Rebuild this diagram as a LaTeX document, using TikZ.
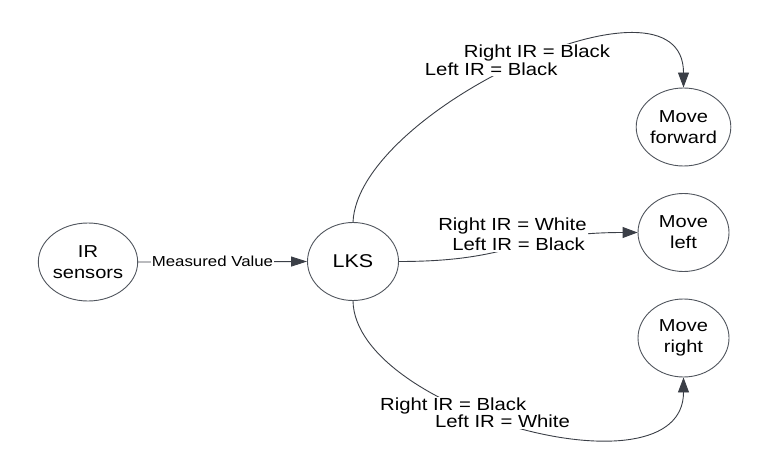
\documentclass[tikz,border=0pt]{standalone}
\usepackage{fontspec}
\setmainfont{Liberation Sans}[FakeStretch=1.16]
\usetikzlibrary{shapes.geometric,arrows.meta}
\definecolor{edgecol}{HTML}{3B3F47}
\definecolor{bordercol}{HTML}{50555D}
\begin{document}
\begin{tikzpicture}[x=1pt,y=-1pt,
  state/.style={ellipse,draw=bordercol,line width=0.9pt,minimum width=91pt,minimum height=78pt,inner sep=0pt,align=center,font=\fontsize{17.3}{21}\selectfont},
  conn/.style={draw=edgecol,line width=0.9pt,-{Triangle[length=15pt,width=11pt]}},
  cond/.style={fill=white,inner sep=1pt,align=left}]
\useasboundingbox (0,0) rectangle (773,476);
\node[state] (ir) at (88,262) {IR\\sensors};
\node[state,font=\fontsize{18.5}{21}\selectfont] (lks) at (353,261.5) {LKS};
\node[state] (fwd) at (683.5,127) {Move\\forward};
\node[state] (left) at (683.5,232.5) {Move\\left};
\node[state] (right) at (683.5,338) {Move\\right};
\draw[conn,-{Triangle[length=16pt,width=10pt]}] (ir.east) -- node[pos=0.44,fill=white,inner sep=1pt,font=\fontsize{14.5}{17}\selectfont] (mv) {Measured Value} (lks.west);
\draw[conn] (lks.north) .. controls +(5,-113) and +(0,-128) .. (fwd.north);
\draw[conn] (lks.east) .. controls +(120,0) and +(-120,0) .. (left.west);
\draw[conn] (lks.south) .. controls +(2,110) and +(0,123) .. (right.south);
\node[cond,font=\fontsize{17.5}{17.7}\selectfont] (cfwd) at (517.5,60) {\hspace*{39pt}Right IR = Black\\Left IR = Black};
\node[cond,font=\fontsize{17.5}{20}\selectfont] (cleft) at (512.5,234.5) {Right IR = White\\\hspace*{14pt}Left IR = Black};
\node[cond,font=\fontsize{17.5}{16.7}\selectfont] (cright) at (475,413) {Right IR = Black\\\hspace*{55pt}Left IR = White};
\end{tikzpicture}
\end{document}
